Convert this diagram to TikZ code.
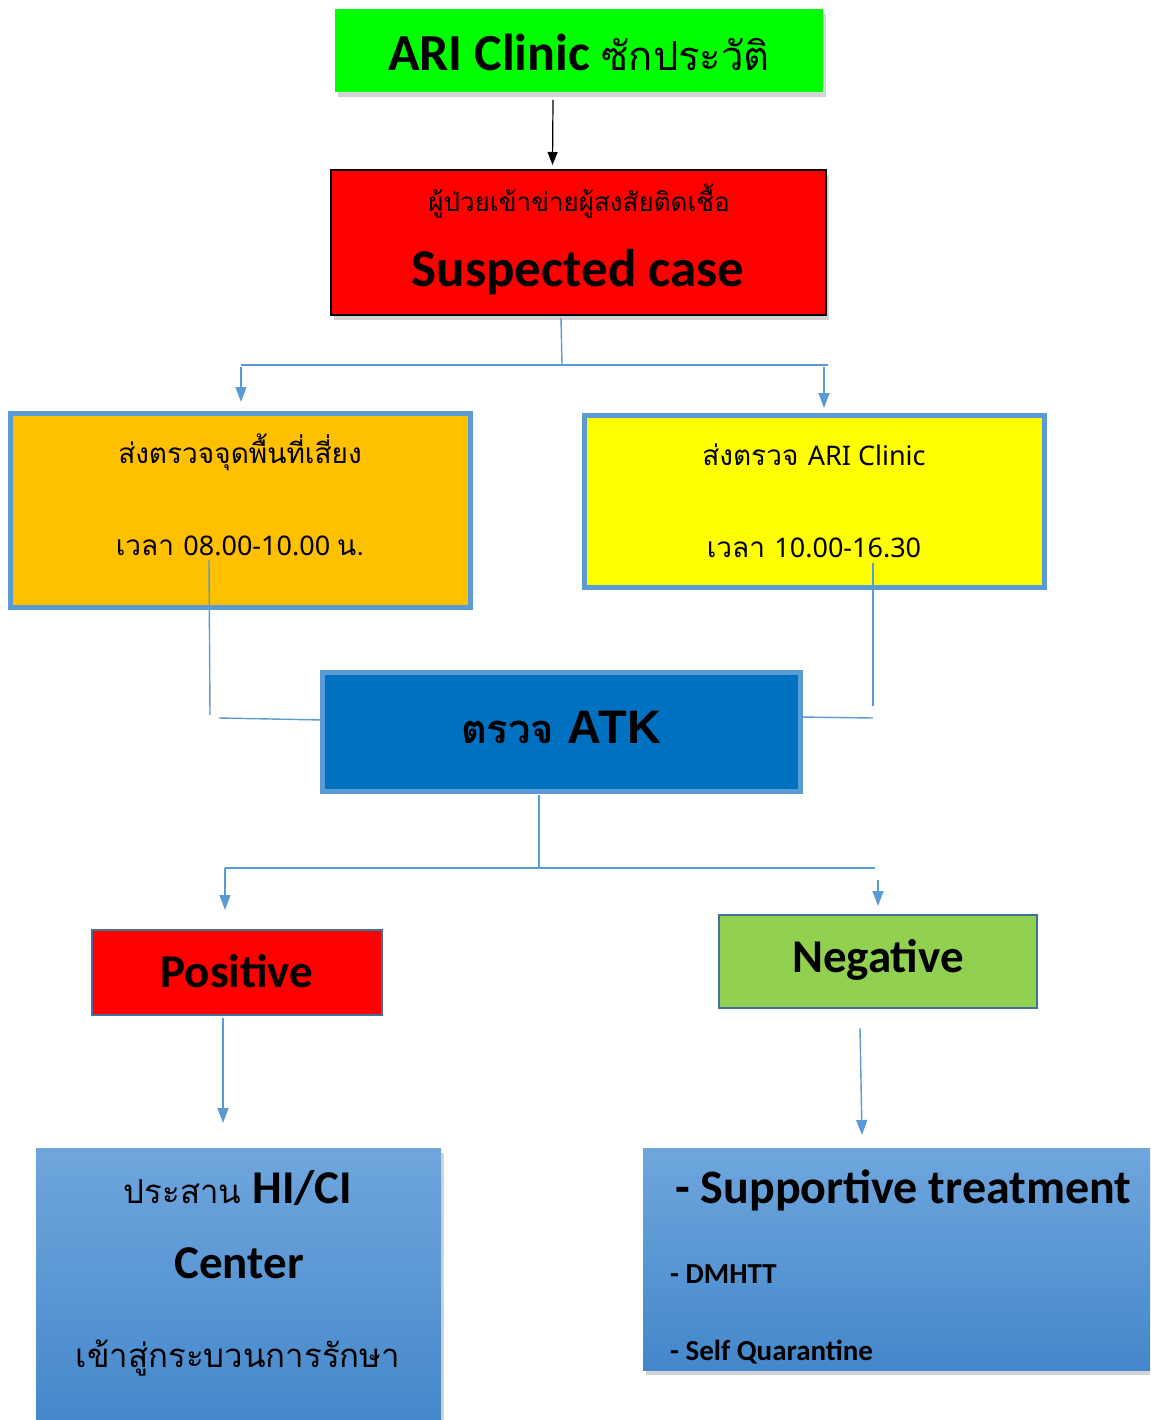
\documentclass[tikz,border=0pt]{standalone}
\usepackage{fontspec}
\setmainfont{Carlito}
\newfontfamily\thai[Script=Thai]{Loma}
\newfontfamily\latinreg{Noto Sans}
\newfontfamily\arialish{Liberation Sans}
\usetikzlibrary{arrows.meta,shadows}
\definecolor{linkblue}{HTML}{5B9BD5}
\definecolor{edgeblue}{HTML}{41719C}
\definecolor{okgreen}{HTML}{00FF00}
\definecolor{alertred}{HTML}{FF0000}
\definecolor{amber}{HTML}{FFC000}
\definecolor{lemon}{HTML}{FFFF00}
\definecolor{atkblue}{HTML}{0070C0}
\definecolor{leaf}{HTML}{92D050}
\definecolor{gradtop}{HTML}{6FA6DD}
\definecolor{gradbot}{HTML}{4487CA}
\newcommand{\fs}[1]{\fontsize{#1}{#1}\selectfont}
\tikzset{
  box/.style={rectangle, inner sep=0pt, outer sep=0pt},
  shade/.style={drop shadow={opacity=0.35, shadow xshift=3pt, shadow yshift=-5pt}},
  framed/.style={box, draw=linkblue, line width=5pt},
  thin frame/.style={box, draw=edgeblue, line width=2.5pt},
  txt/.style={inner sep=0pt, anchor=base},
  txtl/.style={inner sep=0pt, anchor=base west},
  link/.style={draw=linkblue, line width=1.4pt},
  linkarrow/.style={link, -{Triangle[width=11pt,length=15pt]}},
  blackarrow/.style={draw=black, line width=1.2pt, -{Triangle[width=10pt,length=13pt]}},
}
\begin{document}
\begin{tikzpicture}[x=1pt,y=-1pt]
\useasboundingbox (0,0) rectangle (1150,1420);
\clip (0,0) rectangle (1150,1420);

% top: history taking
\node[box, shade, fill=okgreen, minimum width=488pt, minimum height=83pt] (top) at (579,50.5) {};
\node[txt] (toptxt) at (579,71) {\fs{52}\bfseries ARI Clinic \thai\mdseries\fs{40}ซักประวัติ};

% suspected case
\node[box, shade, fill=alertred, draw=black, line width=2pt, minimum width=495pt, minimum height=145pt] (susp) at (578.5,242.5) {};
\node[txt] (susp1) at (579,212) {\thai\fs{26}ผู้ป่วยเข้าข่ายผู้สงสัยติดเชื้อ};
\node[txt] (susp2) at (578,287) {\fs{53}\bfseries Suspected case};

\draw[blackarrow] ([xshift=-26pt,yshift=-8pt]top.south) -- ([xshift=-26pt,yshift=5pt]susp.north);

% two testing points
\node[framed, fill=amber, minimum width=460pt, minimum height=194pt] (risk) at (240,510) {};
\node[txt] (risk1) at (240,463) {\thai\fs{28}ส่งตรวจจุดพื้นที่เสี่ยง};
\node[txt] (risk2) at (240,555) {\thai\fs{28}เวลา \latinreg\fs{27}08.00-10.00 \thai\fs{28}น.};

\node[framed, fill=lemon, minimum width=460pt, minimum height=172pt] (clinic) at (814,501) {};
\node[txt] (clinic1) at (814,465) {\thai\fs{28}ส่งตรวจ \latinreg\fs{27}ARI Clinic};
\node[txt] (clinic2) at (814,557) {\thai\fs{28}เวลา \latinreg\fs{27}10.00-16.30};

% split from suspected case
\coordinate (busA) at (562,365);
\coordinate (busAL) at (241,365);
\coordinate (busAR) at (828,365);
\draw[link] ([xshift=-17.5pt,yshift=-3pt]susp.south) -- (busA);
\draw[link] (busAL) -- (busAR);
\draw[linkarrow] ([yshift=-2pt]busAL) -- ([xshift=1pt,yshift=11pt]risk.north);
\draw[linkarrow] ([xshift=-4pt,yshift=-2pt]busAR) -- ([xshift=10pt,yshift=7pt]clinic.north);

% ATK test
\node[framed, fill=atkblue, minimum width=478pt, minimum height=119pt] (atk) at (561,731.5) {};
\node[txt] (atktxt) at (561,743) {\thai\bfseries\fs{40}ตรวจ \arialish\fs{47}ATK};

\coordinate (riskdrop) at (210,715);
\coordinate (riskjoin) at (219,718);
\coordinate (clinicdrop) at (873,706);
\coordinate (clinicjoin) at (873,718);
\draw[link] ([xshift=-31pt,yshift=47pt]risk.south) -- (riskdrop);
\draw[link] (riskjoin) -- ([yshift=11.5pt]atk.west);
\draw[link] ([xshift=59pt,yshift=24pt]clinic.south) -- (clinicdrop);
\draw[link] ([yshift=14.5pt]atk.east) -- (clinicjoin);

% results
\node[thin frame, fill=alertred, minimum width=290pt, minimum height=85pt] (pos) at (237,972.5) {};
\node[txt] (postxt) at (237,987) {\fs{47}\bfseries Positive};
\node[thin frame, fill=leaf, minimum width=318pt, minimum height=93pt] (neg) at (878,961.5) {};
\node[txt] (negtxt) at (878,972) {\fs{47}\bfseries Negative};

\coordinate (busB) at (539,868);
\coordinate (busBL) at (225,868);
\coordinate (busBR) at (875,868);
\draw[link] ([xshift=-22pt,yshift=-4pt]atk.south) -- (busB);
\draw[link] (busBL) -- (busBR);
\draw[linkarrow] (busBL) -- ([xshift=-12pt,yshift=20pt]pos.north);
\draw[linkarrow] ([xshift=3pt,yshift=-12pt]busBR) -- ([yshift=9pt]neg.north);

% follow-up
\node[box, shade, top color=gradtop, bottom color=gradbot, minimum width=405pt, minimum height=282pt] (hici) at (238.5,1289) {};
\node[txt] (hici1) at (238,1203) {\thai\fs{33}ประสาน \rmfamily\bfseries\fs{47}HI/CI};
\node[txt] (hici2) at (239,1278) {\fs{47}\bfseries Center};
\node[txt] (hici3) at (238,1367) {\thai\fs{33}เข้าสู่กระบวนการรักษา};

\node[box, shade, top color=gradtop, bottom color=gradbot, minimum width=517pt, minimum height=222pt] (care) at (901.5,1259) {};
\node[txtl] (care1) at (675,1203) {\fs{48}\bfseries - Supportive treatment};
\node[txtl] (care2) at (670,1283) {\fs{29}\bfseries - DMHTT};
\node[txtl] (care3) at (670,1360) {\fs{29}\bfseries - Self Quarantine};

\draw[linkarrow] ([xshift=-14pt,yshift=-3pt]pos.south) -- ([xshift=-15.5pt,yshift=25pt]hici.north);
\draw[linkarrow] ([xshift=-18pt,yshift=-20pt]neg.south) -- ([xshift=-39.5pt,yshift=13pt]care.north);
\end{tikzpicture}
\end{document}
